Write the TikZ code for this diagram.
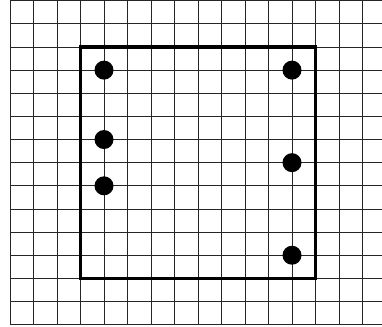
\documentclass[tikz,border=0pt]{standalone}
\begin{document}
\begin{tikzpicture}[x=1pt,y=-1pt,
  gridline/.style={draw=black!85,line width=0.9pt},
  boldbox/.style={draw=black,line width=3.3pt},
  dot/.style={circle,fill=black,inner sep=0pt,minimum size=19pt}]
\useasboundingbox (0,0) rectangle (382,326);
% vertical grid lines
\foreach \i in {0,...,15}{
  \draw[gridline] ({10+23.5*\i},0.7) -- ({10+23.5*\i},324.7);
}
% horizontal grid lines
\foreach \j in {0,...,14}{
  \draw[gridline] (10,{0.7+23.14*\j}) -- (382,{0.7+23.14*\j});
}
% bold square
\draw[boldbox] (80.5,{0.7+23.14*2}) rectangle (315.5,{0.7+23.14*12});
% dots
\node[dot] (l1) at (104,{0.7+23.14*3}) {};
\node[dot] (l2) at (104,{0.7+23.14*6}) {};
\node[dot] (l3) at (104,{0.7+23.14*8}) {};
\node[dot] (r1) at (292,{0.7+23.14*3}) {};
\node[dot] (r2) at (292,{0.7+23.14*7}) {};
\node[dot] (r3) at (292,{0.7+23.14*11}) {};
\end{tikzpicture}
\end{document}
